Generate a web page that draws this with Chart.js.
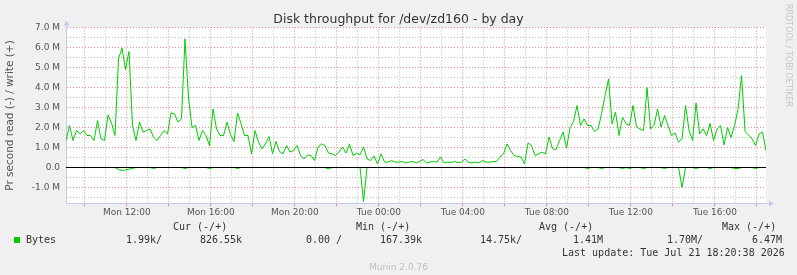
<!DOCTYPE html>
<html><head><meta charset="utf-8">
<script src="https://cdn.jsdelivr.net/npm/chart.js@4/dist/chart.umd.min.js"></script>
<style>
html,body{margin:0;padding:0;background:#F0F0F0;width:797px;height:275px;overflow:hidden;}
#wrap{position:relative;width:797px;height:275px;}
canvas{position:absolute;left:0;top:0;}
.t{position:absolute;white-space:pre;}
.mono{font-family:"DejaVu Sans Mono",monospace;font-size:10px;line-height:12px;color:#333;}
</style></head><body>
<div id="wrap">
<canvas id="c" width="797" height="275"></canvas>
<div class="t" style="left:0;top:12px;width:797px;text-align:center;font-family:'DejaVu Sans';font-size:12.5px;line-height:14px;color:#333">Disk throughput for /dev/zd160 - by day</div>
<div class="t" style="left:784px;top:4px;writing-mode:vertical-rl;font-family:'DejaVu Sans';font-size:8px;line-height:9px;color:#c4c4c4">RRDTOOL / TOBI OETIKER</div>
<div id="legend"></div>
<div class="t" style="left:0;top:261px;width:797px;text-align:center;font-family:'DejaVu Sans';font-size:9px;line-height:12px;color:#c0c0c0">Munin 2.0.76</div>
</div>
<script>
// time axis: hours since Monday 00:00, one sample per 10 minutes
const startHour = 9.1;
const stepHours = 1 / 6;
const endHour = 42.43;
const dayNames = ['Mon', 'Tue'];
const xTickHours = [10,11,12,13,14,15,16,17,18,19,20,21,22,23,24,25,26,27,28,29,30,31,32,33,34,35,36,37,38,39,40,41,42];
const yTickValues = [-1.5,-1,-0.5,0,0.5,1,1.5,2,2.5,3,3.5,4,4.5,5,5.5,6,6.5,7];

// bytes per second, in millions (write = +, read = -)
const writeBytes = [
 1.35,2.1,1.35,1.85,1.68,1.85,1.6,1.6,1.35,2.35,
 1.43,1.35,2.63,2.23,1.6,5.43,5.97,4.9,5.8,2.1,
 1.35,2.27,1.77,1.85,1.93,1.52,1.35,1.6,1.85,1.68,
 2.73,2.68,2.27,2.43,6.43,3.5,2.0,2.1,1.35,1.85,
 1.6,1.1,2.93,1.93,1.6,1.6,2.27,1.63,1.3,2.73,
 2.2,1.6,1.6,0.68,1.85,1.27,0.93,1.18,1.55,0.7,
 1.3,0.8,0.68,1.1,0.77,0.85,1.1,0.6,0.43,0.63,
 0.6,0.35,1.02,1.18,1.1,0.72,0.68,0.6,0.77,1.02,
 0.72,1.18,0.6,0.72,0.63,1.02,0.43,0.35,0.57,0.18,
 0.68,0.27,0.27,0.35,0.27,0.27,0.3,0.23,0.27,0.3,
 0.23,0.3,0.4,0.23,0.27,0.3,0.27,0.52,0.23,0.27,
 0.25,0.3,0.25,0.27,0.43,0.25,0.23,0.27,0.23,0.35,
 0.27,0.27,0.3,0.3,0.52,0.68,1.18,0.85,0.6,0.55,
 0.52,0.18,1.23,1.1,0.6,0.68,0.77,0.68,1.52,0.93,
 0.9,1.35,1.77,0.97,2.0,2.3,3.1,2.1,2.43,2.1,
 2.1,1.8,1.93,2.68,3.6,4.43,2.18,2.77,1.6,2.52,
 2.18,2.1,3.1,2.02,1.93,1.85,4.0,1.93,2.1,2.93,
 2.02,2.6,2.1,1.6,1.73,1.27,1.43,3.1,1.85,1.35,
 3.23,1.68,1.93,1.6,2.2,1.35,1.93,2.1,1.13,2.0,
 1.5,2.1,2.93,4.6,1.8,1.63,1.43,1.1,1.68,1.77,
 0.83
];
const readBytes = [
 0,0,0,0,0,0,0,0,0,0,
 0,0,0,0,0,-0.1,-0.15,-0.12,-0.08,-0.05,
 0,0,0,0,0,-0.05,0,0,0,0,
 0,0,0,0,-0.05,0,0,0,0,0,
 0,-0.05,0,0,0,0,0,0,0,-0.05,
 0,0,0,0,0,0,0,0,0,0,
 0,0,0,0,0,0,0,0,0,0,
 0,0,0,0,0,-0.07,0,0,0,0,
 0,0,0,0,0,-1.7,0,0,0,0,
 0,0,0,0,0,0,0,0,0,0,
 0,0,0,0,0,0,0,0,0,0,
 0,0,0,0,0,0,0,0,0,0,
 0,0,0,0,0,0,0,0,0,0,
 0,0,0,0,0,0,0,0,0,0,
 0,0,0,0,0,0,0,0,0,-0.05,
 0,0,0,-0.05,0,0,0,0,0,-0.05,
 0,-0.05,0,0,0,-0.05,0,0,0,0,
 0,-0.05,0,0,0,0,-1.0,0,0,0,
 -0.05,0,0,0,-0.05,0,0,0,0,0,
 0,-0.05,-0.05,0,0,0,0,-0.05,0,0,
 0
];

// legend table
const legendHeaders = ['Cur (-/+)', 'Min (-/+)', 'Avg (-/+)', 'Max (-/+)'];
const legendSeries = 'Bytes';
const legendValues = ['1.99k/', '826.55k', '0.00 /', '167.39k', '14.75k/', '1.41M', '1.70M/', '6.47M'];
const lastUpdate = 'Last update: Tue Jul 21 18:20:38 2026';

const headerX = [173, 356, 539, 722];
const valueX = [126, 200, 306, 380, 480, 573, 667, 752];
const lg = document.getElementById('legend');
function addText(txt, x, y, cls) {
  const d = document.createElement('div');
  d.className = 't ' + cls; d.textContent = txt;
  d.style.left = x + 'px'; d.style.top = y + 'px';
  lg.appendChild(d);
}
legendHeaders.forEach((h, i) => addText(h, headerX[i], 221, 'mono'));
addText(legendSeries, 26, 234, 'mono');
legendValues.forEach((v, i) => addText(v, valueX[i], 234, 'mono'));
addText(lastUpdate, 562, 246.5, 'mono');
const sq = document.createElement('div');
sq.style.cssText = 'position:absolute;left:14px;top:237px;width:6px;height:6px;background:#00CC00';
lg.appendChild(sq);

const toPoints = arr => arr.map((v, i) => ({x: startHour + i * stepHours, y: v}));

const MAJOR = 'rgba(230,130,130,0.9)';
const MINOR = 'rgba(180,180,180,0.9)';
const AXIS = '#C8C8EC';

const decor = {
  id: 'decor',
  beforeDraw(chart) {
    const {ctx, chartArea: a} = chart;
    ctx.save();
    ctx.fillStyle = '#FFFFFF';
    ctx.fillRect(a.left, a.top, a.right - a.left, a.bottom - a.top);
    ctx.restore();
  },
  afterDatasetsDraw(chart) {
    const {ctx, chartArea: a, scales} = chart;
    const y0 = scales.y.getPixelForValue(0);
    ctx.save();
    ctx.strokeStyle = '#000000';
    ctx.lineWidth = 1;
    ctx.beginPath();
    ctx.moveTo(a.left, y0); ctx.lineTo(a.right, y0);
    ctx.stroke();
    ctx.restore();
  },
  afterDraw(chart) {
    const {ctx, chartArea: a} = chart;
    ctx.save();
    ctx.strokeStyle = AXIS; ctx.fillStyle = AXIS; ctx.lineWidth = 1;
    const xl = Math.round(a.left) + 0.5;
    const yb = Math.round(a.bottom) - 0.5;
    ctx.beginPath();
    ctx.moveTo(xl, a.top); ctx.lineTo(xl, a.top - 3);
    ctx.moveTo(a.right, yb); ctx.lineTo(a.right + 4, yb);
    ctx.stroke();
    ctx.beginPath();
    ctx.moveTo(xl - 3, a.top - 2); ctx.lineTo(xl + 3, a.top - 2); ctx.lineTo(xl, a.top - 7); ctx.closePath();
    ctx.fill();
    ctx.beginPath();
    ctx.moveTo(a.right + 3, yb - 3); ctx.lineTo(a.right + 3, yb + 3); ctx.lineTo(a.right + 8, yb); ctx.closePath();
    ctx.fill();
    ctx.restore();
  }
};

Chart.defaults.font.family = "'DejaVu Sans'";
new Chart(document.getElementById('c'), {
  type: 'line',
  data: {
    datasets: [
      {label: 'read', data: toPoints(readBytes), borderColor: '#00CC00', borderWidth: 1, pointRadius: 0, tension: 0, fill: false},
      {label: 'write', data: toPoints(writeBytes), borderColor: '#00CC00', borderWidth: 1, pointRadius: 0, tension: 0, fill: false}
    ]
  },
  options: {
    responsive: false, animation: false, devicePixelRatio: 1, events: [],
    layout: {padding: {left: 0, right: 31, top: 27.5, bottom: 52}},
    plugins: {legend: {display: false}, tooltip: {enabled: false}},
    scales: {
      x: {
        type: 'linear', min: startHour, max: endHour,
        afterFit: s => { s.height = 19.5; },
        afterBuildTicks: s => { s.ticks = xTickHours.map(v => ({value: v})); },
        border: {display: true, color: AXIS, dash: [1, 2]},
        grid: {
          color: c => (c.tick && c.tick.value % 2 === 0) ? MAJOR : MINOR,
          tickColor: c => (c.tick && c.tick.value % 2 === 0) ? MAJOR : 'rgba(0,0,0,0)',
          drawTicks: true, tickLength: 3, lineWidth: 1
        },
        ticks: {
          autoSkip: false, maxRotation: 0, padding: 1, color: '#555', font: {size: 9},
          callback: v => {
            if (v % 4 !== 0) return '';
            const d = dayNames[Math.floor(v / 24)];
            const h = String(v % 24).padStart(2, '0');
            return d + ' ' + h + ':00';
          }
        }
      },
      y: {
        type: 'linear', min: -1.8, max: 7.0,
        afterFit: s => { s.width = 66; },
        afterBuildTicks: s => { s.ticks = yTickValues.map(v => ({value: v})); },
        border: {display: true, color: AXIS, dash: [1, 2]},
        grid: {
          color: c => (c.tick && Number.isInteger(c.tick.value)) ? MAJOR : MINOR,
          drawTicks: false, lineWidth: 1
        },
        ticks: {
          autoSkip: false, padding: 6, color: '#555', font: {size: 9},
          callback: v => v === 0 ? '0.0' : (Number.isInteger(v) ? v.toFixed(1) + ' M' : '')
        },
        title: {display: true, text: 'Pr second read (-) / write (+)', color: '#555', font: {size: 10.5}, padding: {top: 4, bottom: 0}}
      }
    }
  },
  plugins: [decor]
});
</script>
</body></html>
